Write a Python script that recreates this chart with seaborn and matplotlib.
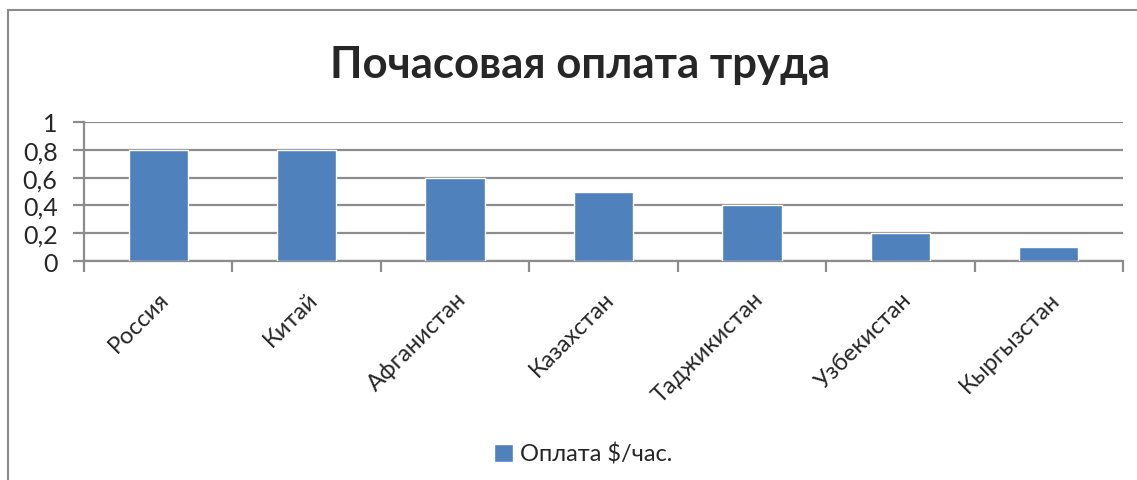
import pandas as pd
import numpy as np
import matplotlib
matplotlib.use("Agg")
import matplotlib.pyplot as plt
import seaborn as sns
from matplotlib.patches import Rectangle, Patch
from matplotlib.ticker import FixedLocator, FuncFormatter

# data
countries = ["Россия", "Китай", "Афганистан", "Казахстан",
             "Таджикистан", "Узбекистан", "Кыргызстан"]
pay = [0.8, 0.8, 0.6, 0.5, 0.4, 0.2, 0.1]
series_name = "Оплата $/час."
title = "Почасовая оплата труда"
y_ticks = [0, 0.2, 0.4, 0.6, 0.8, 1]

df = pd.DataFrame({"Страна": countries, "Оплата": pay})

sns.set_style("white")
plt.rcParams['font.family'] = ['Lato', 'DejaVu Sans']

bar_color = "#4F81BD"
grid_color = "#8C8C8C"

fig = plt.figure(figsize=(11.37, 4.81), dpi=100)
ax = fig.add_axes([84 / 1137, 1 - 262 / 481, (1123 - 84) / 1137, (262 - 123) / 481])

# chart frame (runs off the top-right / bottom of the image)
fig.patches.append(Rectangle((8 / 1137, -0.1), 1.2, 1 - 11 / 481 + 0.1,
                             transform=fig.transFigure, fill=False,
                             edgecolor="#8C8C8C", linewidth=1.5, zorder=0))

sns.barplot(data=df, x="Страна", y="Оплата", color=bar_color, width=0.4,
            saturation=1, ax=ax, zorder=3)

ax.set_xlim(-0.5, len(countries) - 0.5)
ax.set_ylim(0, 1)
ax.yaxis.set_major_locator(FixedLocator(y_ticks))
ax.yaxis.set_major_formatter(FuncFormatter(lambda v, p: ("%g" % v).replace(".", ",")))
ax.grid(axis="y", color=grid_color, linewidth=1.6, zorder=0)
ax.set_axisbelow(True)

for s in ["top", "right"]:
    ax.spines[s].set_visible(False)
for s in ["left", "bottom"]:
    ax.spines[s].set_color(grid_color)
    ax.spines[s].set_linewidth(1.6)

ax.tick_params(axis="y", left=True, length=8, width=1.6, color=grid_color,
               labelsize=18, pad=11)
ax.set_xticks(np.arange(len(countries)))
ax.set_xticklabels(countries, rotation=45, ha="right", rotation_mode="anchor",
                   fontsize=17)
ax.tick_params(axis="x", which="major", bottom=False, pad=16)
ax.set_xticks(np.arange(len(countries) + 1) - 0.5, minor=True)
ax.tick_params(axis="x", which="minor", bottom=True, length=8, width=1.6,
               color=grid_color)
ax.set_xlabel("")
ax.set_ylabel("")

fig.text(0.5106, 1 - 78 / 481, title, ha="center", va="baseline",
         fontsize=31.5, fontweight="bold")

fig.legend(handles=[Patch(facecolor=bar_color, label=series_name)],
           loc="center", bbox_to_anchor=(0.513, 1 - 455 / 481), frameon=False,
           fontsize=17, handlelength=0.8, handleheight=0.8, handletextpad=0.3)

fig.savefig("out.png", dpi=100)
